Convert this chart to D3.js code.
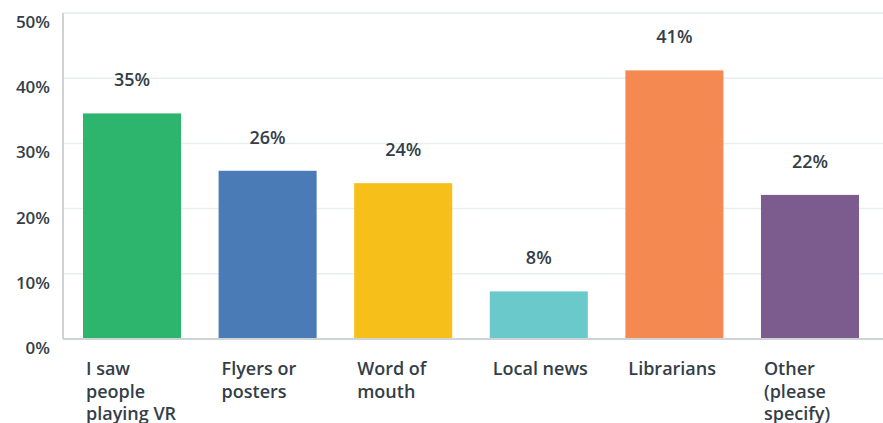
<!DOCTYPE html>
<html>
<head>
<meta charset="utf-8">
<script src="https://cdn.jsdelivr.net/npm/d3@7"></script>
<style>
  body { margin: 0; background: #fff; }
  text { font-family: "Open Sans", "DejaVu Sans", sans-serif; fill: #333e48; }
</style>
</head>
<body>
<script>
// data
var categories = [
  ["I saw", "people", "playing VR"],
  ["Flyers or", "posters"],
  ["Word of", "mouth"],
  ["Local news"],
  ["Librarians"],
  ["Other", "(please", "specify)"]
];
var values = [34.6, 25.8, 23.9, 7.3, 41.2, 22.1];
var valueLabels = ["35%", "26%", "24%", "8%", "41%", "22%"];
var colors = ["#2db56e", "#4a7bb6", "#f6bf1a", "#6ac9ca", "#f48a51", "#7c5b8e"];
var yTicks = [0, 10, 20, 30, 40, 50];

var w = 883, h = 423;
var padL = 63, padT = 13, base = 339;

var svg = d3.select("body").append("svg")
    .attr("width", w)
    .attr("height", h);

var ids = d3.range(values.length);

var x = d3.scaleBand()
    .domain(ids)
    .range([padL, 879])
    .paddingInner(0.277)
    .paddingOuter(0.1475);

var y = d3.scaleLinear()
    .domain([0, 50])
    .range([base, padT]);

// gridlines
svg.selectAll("line.grid")
    .data(yTicks.filter(function(d) { return d > 0; }))
    .enter().append("line")
    .attr("class", "grid")
    .attr("x1", padL).attr("x2", w)
    .attr("y1", function(d) { return y(d); })
    .attr("y2", function(d) { return y(d); })
    .attr("stroke", "#e9edef")
    .attr("stroke-width", 1.5);

// tick labels (sit a bit below their line, like the source)
svg.selectAll("text.tick")
    .data(yTicks)
    .enter().append("text")
    .attr("class", "tick")
    .attr("x", 50)
    .attr("y", function(d) { return y(d) + 15; })
    .attr("text-anchor", "end")
    .style("font-size", "17px")
    .style("font-weight", 600)
    .text(function(d) { return d + "%"; });

// bars
svg.selectAll("rect")
    .data(ids)
    .enter().append("rect")
    .attr("x", function(i) { return x(i); })
    .attr("y", function(i) { return y(values[i]); })
    .attr("width", x.bandwidth())
    .attr("height", function(i) { return base - y(values[i]); })
    .attr("fill", function(i) { return colors[i]; });

// axis lines
svg.append("line")
    .attr("x1", padL).attr("x2", padL)
    .attr("y1", padT).attr("y2", base)
    .attr("stroke", "#cfd3d6").attr("stroke-width", 2);
svg.append("line")
    .attr("x1", padL).attr("x2", w)
    .attr("y1", base).attr("y2", base)
    .attr("stroke", "#cfd3d6").attr("stroke-width", 2);

// value labels
svg.selectAll("text.val")
    .data(ids)
    .enter().append("text")
    .attr("class", "val")
    .attr("x", function(i) { return x(i) + x.bandwidth() / 2; })
    .attr("y", function(i) { return y(values[i]) - 27; })
    .attr("text-anchor", "middle")
    .style("font-size", "18px")
    .style("font-weight", 600)
    .text(function(i) { return valueLabels[i]; });

// category labels
var cat = svg.selectAll("text.cat")
    .data(ids)
    .enter().append("text")
    .attr("class", "cat")
    .attr("x", function(i) { return x(i) + 3; })
    .attr("y", 375)
    .style("font-size", "18px")
    .style("font-weight", 600);

cat.selectAll("tspan")
    .data(function(i) { return categories[i].map(function(t) { return { t: t, i: i }; }); })
    .enter().append("tspan")
    .attr("x", function(d) { return x(d.i) + 3; })
    .attr("dy", function(d, k) { return k === 0 ? 0 : 22.5; })
    .text(function(d) { return d.t; });
</script>
</body>
</html>
